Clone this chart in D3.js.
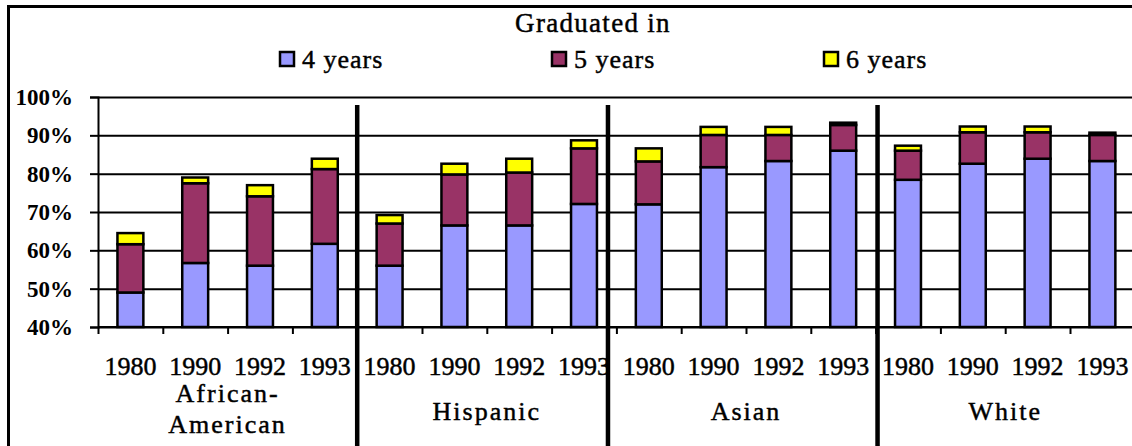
<!DOCTYPE html>
<html>
<head>
<meta charset="utf-8">
<script src="https://cdn.jsdelivr.net/npm/d3@7"></script>
<style>
  body { margin: 0; background: #fff; }
  svg text { font-family: "Liberation Serif", "Times New Roman", "DejaVu Serif", serif; }
  svg text.heavy { stroke: #000; stroke-width: 0.45px; }
</style>
</head>
<body>
<div id="chart"></div>
<script>
// groups and years along the x axis
const groups = ["African-American", "Hispanic", "Asian", "White"];
const groupLines = [["African-", "American"], ["Hispanic"], ["Asian"], ["White"]];
const years = ["1980", "1990", "1992", "1993"];

// share graduating in each period (percent, stacked)
const fourYears = [49, 56.7, 56, 61.7, 56, 66.5, 66.5, 72.1, 72, 81.7, 83.3, 86, 78.4, 82.6, 83.9, 83.3];
const fiveYears = [12.6, 20.8, 18.1, 19.5, 11, 13.3, 13.8, 14.5, 11.2, 8.4, 6.8, 6.7, 7.6, 8.2, 6.9, 6.8];
const sixYears = [2.9, 1.5, 2.9, 2.7, 2.2, 2.8, 3.6, 2.1, 3.4, 2.1, 2.1, 0.6, 1.3, 1.5, 1.5, 0.6];

const seriesNames = ["4 years", "5 years", "6 years"];
const seriesColors = ["#9999ff", "#993366", "#ffff00"];
const yTicks = [40, 50, 60, 70, 80, 90, 100];
// separator positions, in category units
const dividers = [4, 7.87, 12.03];

const width = 1132, height = 446;
const margin = { top: 97, left: 98 };
const innerW = 1036.8, innerH = 230;

const rows = fourYears.map((v, i) => ({
  key: groups[Math.floor(i / 4)] + " " + years[i % 4],
  year: years[i % 4],
  "4 years": v,
  "5 years": fiveYears[i],
  "6 years": sixYears[i]
}));

const svg = d3.select("#chart").append("svg").attr("width", width).attr("height", height);
svg.append("rect").attr("width", width).attr("height", height).attr("fill", "#fff");

// outer frame
svg.append("line").attr("x1", 8).attr("x2", width).attr("y1", 6.5).attr("y2", 6.5)
  .attr("stroke", "#000").attr("stroke-width", 3);
svg.append("line").attr("x1", 8.5).attr("x2", 8.5).attr("y1", 5).attr("y2", height)
  .attr("stroke", "#000").attr("stroke-width", 3);

const plot = svg.append("g").attr("transform", `translate(${margin.left},${margin.top})`);

const x = d3.scaleBand().domain(rows.map(d => d.key)).range([0, innerW]).paddingInner(0.6).paddingOuter(0.3);
const xi = d3.scaleLinear().domain([0, rows.length]).range([0, innerW]);
const y = d3.scaleLinear().domain([40, 100]).range([innerH, 0]).clamp(true);

// gridlines
plot.append("g")
  .call(d3.axisLeft(y).tickValues(yTicks).tickSize(-(width - margin.left)).tickFormat(""))
  .call(g => g.select(".domain").remove())
  .selectAll("line").attr("stroke", "#000").attr("stroke-width", 2);

// y axis
plot.append("g")
  .call(d3.axisLeft(y).tickValues(yTicks).tickSize(8).tickPadding(17).tickFormat(d => d + "%"))
  .call(g => g.select(".domain").attr("stroke-width", 2))
  .call(g => g.selectAll("line").attr("stroke-width", 2))
  .selectAll("text")
  .attr("font-size", 23).attr("font-weight", "bold").attr("fill", "#000");

// x axis ticks at category boundaries
plot.append("g").attr("transform", `translate(0,${innerH})`)
  .call(d3.axisBottom(xi).tickValues(d3.range(0, rows.length + 1)).tickSize(7).tickFormat(""))
  .call(g => g.select(".domain").attr("d", `M0,0H${width - margin.left}`).attr("stroke-width", 2))
  .selectAll("line").attr("stroke-width", 2);

// stacked bars
const stack = d3.stack().keys(seriesNames)(rows);
plot.append("g").selectAll("g").data(stack).join("g")
  .attr("fill", (d, i) => seriesColors[i])
  .selectAll("rect").data(d => d).join("rect")
  .attr("x", d => x(d.data.key))
  .attr("width", x.bandwidth())
  .attr("y", d => y(d[1]))
  .attr("height", d => Math.max(0, y(d[0]) - y(d[1])))
  .attr("stroke", "#000").attr("stroke-width", 2.5);

// year labels
plot.append("g").selectAll("text").data(rows).join("text")
  .attr("class", "heavy")
  .attr("x", d => x(d.key) + x.bandwidth() / 2)
  .attr("y", 375 - margin.top)
  .attr("text-anchor", "middle")
  .attr("font-size", 26)
  .text(d => d.year);

// group labels
const groupBaselines = [[402, 433], [420], [420], [420]];
groupLines.forEach((lines, gi) => {
  const cx = xi(gi * 4 + 2);
  lines.forEach((t, li) => {
    plot.append("text")
      .attr("class", "heavy")
      .attr("x", cx)
      .attr("y", groupBaselines[gi][li] - margin.top)
      .attr("text-anchor", "middle")
      .attr("font-size", 26)
      .attr("letter-spacing", 2)
      .text(t);
  });
});

// group separators
plot.append("g").selectAll("line").data(dividers).join("line")
  .attr("x1", d => xi(d)).attr("x2", d => xi(d))
  .attr("y1", 8).attr("y2", height - margin.top)
  .attr("stroke", "#000").attr("stroke-width", 4.5);

// title and legend
svg.append("text").attr("class", "heavy").attr("x", 593).attr("y", 32).attr("text-anchor", "middle")
  .attr("font-size", 27).attr("letter-spacing", 1.3).text("Graduated in");

const legend = svg.append("g").selectAll("g").data(seriesNames).join("g")
  .attr("transform", (d, i) => `translate(${279 + i * 272},52)`);
legend.append("rect").attr("x", 1).attr("y", 0).attr("width", 14).attr("height", 14)
  .attr("fill", (d, i) => seriesColors[i]).attr("stroke", "#000").attr("stroke-width", 2.5);
legend.append("text").attr("class", "heavy").attr("x", 23).attr("y", 16).attr("font-size", 26).attr("letter-spacing", 1)
  .text(d => d);
</script>
</body>
</html>
